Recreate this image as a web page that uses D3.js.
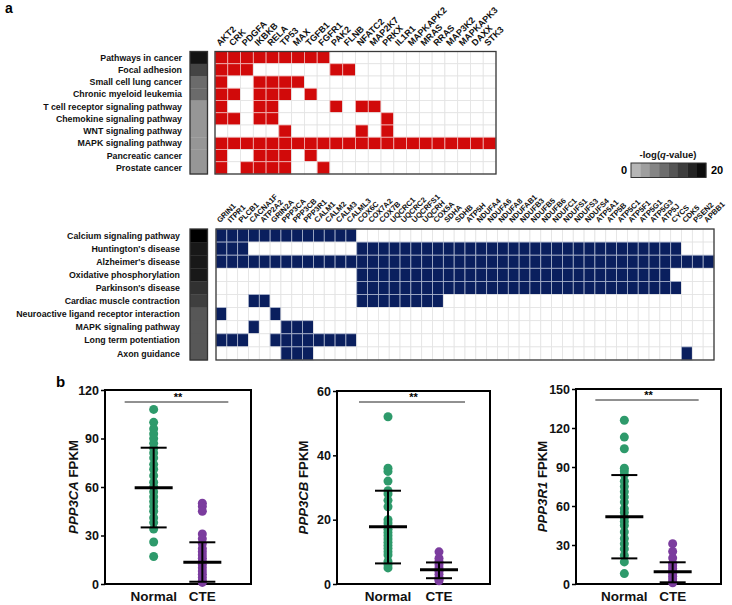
<!DOCTYPE html>
<html><head><meta charset="utf-8">
<script src="https://cdn.jsdelivr.net/npm/d3@7"></script>
<style>body{margin:0;background:#fff}svg{display:block;font-family:"Liberation Sans",Arial,sans-serif;font-weight:bold}</style>
</head><body><svg id="c" width="732" height="605"></svg>
<script>
// ---------- Panel a, top heatmap ----------
const topPathways = ["Pathways in cancer","Focal adhesion","Small cell lung cancer","Chronic myeloid leukemia","T cell receptor signaling pathway","Chemokine signaling pathway","WNT signaling pathway","MAPK signaling pathway","Pancreatic cancer","Prostate cancer"];
const topGenes = ["AKT2","CRK","PDGFA","IKBKB","RELA","TP53","MAX","TGFB1","FGFR1","PAK2","FLNB","NFATC2","MAP2K7","PRKX","IL1R1","MAPKAPK2","MRAS","RRAS","MAP3K2","MAPKAPK3","DAXX","STK3"];
const topHits = [
  "1111111110 0000000000 00",
  "1110000001 1000000000 00",
  "1001111000 0000000000 00",
  "1101110100 0000000000 00",
  "1001100001 0110000000 00",
  "1101100000 0001000000 00",
  "0000010000 0101000000 00",
  "1111111111 1111111111 11",
  "1001110100 0000000000 00",
  "1011110010 0000000000 00"
];
const topScores = [18, 13, 9, 9, 4.5, 4.5, 4.5, 4.5, 4.5, 4.5];

// ---------- Panel a, bottom heatmap ----------
const bottomPathways = ["Calcium signaling pathway","Huntington's disease","Alzheimer's disease","Oxidative phosphorylation","Parkinson's disease","Cardiac muscle contraction","Neuroactive ligand receptor interaction","MAPK signaling pathway","Long term potentiation","Axon guidance"];
const bottomGenes = ["GRIN1","ITPR1","PLCB1","CACNA1F","ATP2A2","GRIN2A","PPP3CA","PPP3CB","PPP3R1","CALM1","CALM2","CALM3","CALML3","COX6C","COX7A2","COX7B","UQCRC1","UQCRC2","UQCRFS1","UQCRH","COX5A","SDHA","SDHB","ATP5H","NDUFA4","NDUFA6","NDUFA8","NDUFAB1","NDUFB3","NDUFB5","NDUFB6","NDUFC1","NDUFS1","NDUFS3","NDUFS4","ATP5A1","ATP5B","ATP5C1","ATP5F1","ATP5G1","ATP5G3","ATP5J","CYCS","CDK5","PSEN2","APBB1"];
const bottomHits = [
  "1111111111 1110000000 0000000000 0000000000 000000",
  "1110000000 0001111111 1111111111 1111111111 111000",
  "1111111111 1111111111 1111111111 1111111111 111111",
  "0000000000 0001111111 1111111111 1111111111 110000",
  "0000000000 0001111111 1111111111 1111111111 111000",
  "0001100000 0001111111 1000000000 0000000000 000000",
  "1000010000 0000000000 0000000000 0000000000 000000",
  "0001001110 0000000000 0000000000 0000000000 000000",
  "1110011111 1110000000 0000000000 0000000000 000000",
  "0000001110 0000000000 0000000000 0000000000 000100"
];
const bottomScores = [20, 17.5, 17.5, 17.5, 15, 13.5, 11, 11, 11, 11];
const legendTicks = [0, 20];

// ---------- Panel b ----------
const groups = ["Normal","CTE"];
const ppp3caNormal = [108,100,96,93,90,87,84,81,78,74,71,67,63,60,57,54,51,48,45,41,38,34,26,17];
const ppp3caCTE = [50,48,45,31,28,25,22,20,18,16,14,12,10,8,6,4,2,1];
const ppp3caStats = [{mean:59.6, lo:35, hi:84.3},{mean:13.4, lo:1.4, hi:25.8}];
const ppp3cbNormal = [52,36,35,32,29,28,26,24,20,19,18,17,16,15,14,13,12,11,10,9,7,6,5];
const ppp3cbCTE = [10,8,7,6,5,4,3,2,1.5,1];
const ppp3cbStats = [{mean:17.8, lo:6.4, hi:29},{mean:4.4, lo:1.8, hi:6.7}];
const ppp3r1Normal = [126,113,104,89,87,84,79,75,71,67,63,58,55,51,48,45,40,35,31,27,22,17,8];
const ppp3r1CTE = [31,25,20,16,14,12,10,8,6,4,2,1];
const ppp3r1Stats = [{mean:51.8, lo:19.7, hi:83.8},{mean:9.5, lo:1.3, hi:16.7}];
const ppp3caTicks = [0,30,60,90,120];
const ppp3cbTicks = [0,20,40,60];
const ppp3r1Ticks = [0,30,60,90,120,150];

const svg = d3.select("#c");
const gray = d3.scaleLinear().domain([0,20]).range(["#c2c2c2","#000000"]);

function heatmap(o){
  const g = svg.append("g");
  const x = d3.scaleBand().domain(o.genes).range([o.x0,o.x1]);
  const y = d3.scaleBand().domain(o.pathways).range([o.y0,o.y1]);
  const cells = [];
  o.pathways.forEach((p,i)=>{
    const row = o.hits[i].replace(/ /g,"");
    o.genes.forEach((gn,j)=>cells.push({p, gn, on: row[j]==="1"}));
  });
  g.selectAll("rect.cell").data(cells).join("rect").attr("class","cell")
    .attr("x",d=>x(d.gn)).attr("y",d=>y(d.p))
    .attr("width",x.bandwidth()).attr("height",y.bandwidth())
    .attr("fill",d=>d.on?o.fill:"#fff")
    .attr("stroke",d=>d.on?o.lineOn:"#e3e3e3").attr("stroke-width",0.8);
  g.append("rect").attr("x",o.x0).attr("y",o.y0).attr("width",o.x1-o.x0).attr("height",o.y1-o.y0)
    .attr("fill","none").attr("stroke","#3a3a3a").attr("stroke-width",1.3);
  // side bar
  g.selectAll("rect.bar").data(o.pathways).join("rect").attr("class","bar")
    .attr("x",o.bx0).attr("y",d=>y(d)).attr("width",o.bx1-o.bx0).attr("height",y.bandwidth()+0.3)
    .attr("fill",(d,i)=>gray(o.scores[i]));
  g.append("rect").attr("x",o.bx0).attr("y",o.y0).attr("width",o.bx1-o.bx0).attr("height",o.y1-o.y0)
    .attr("fill","none").attr("stroke","#333").attr("stroke-width",1.3);
  // row labels
  g.selectAll("text.row").data(o.pathways).join("text").attr("class","row")
    .attr("x",o.labelX).attr("y",d=>y(d)+y.bandwidth()/2).attr("dy","0.35em")
    .attr("text-anchor","end").attr("font-size",o.rowFont).attr("fill","#111").text(d=>d);
  // gene labels
  g.selectAll("text.gene").data(o.genes).join("text").attr("class","gene")
    .attr("transform",d=>`translate(${x(d)+x.bandwidth()/2-1.5},${o.y0-o.geneGap}) rotate(-45)`)
    .attr("font-size",o.geneFont).attr("fill","#111").text(d=>d);
}

heatmap({pathways:topPathways, genes:topGenes, hits:topHits, scores:topScores,
  x0:215, x1:496, y0:51.5, y1:174, bx0:190, bx1:207.5, labelX:182,
  fill:"#d10a0a", lineOn:"#f0b4b4", rowFont:8.8, geneFont:9, geneGap:5});
heatmap({pathways:bottomPathways, genes:bottomGenes, hits:bottomHits, scores:bottomScores,
  x0:216, x1:714, y0:229, y1:360, bx0:190, bx1:207.5, labelX:180,
  fill:"#0a1f5e", lineOn:"#aab4cc", rowFont:8.8, geneFont:7.6, geneGap:6});

// legend
(function(){
  const lx = d3.scaleLinear().domain(legendTicks).range([631,706]);
  const steps = d3.range(8);
  const w = (706-631)/8;
  svg.selectAll("rect.leg").data(steps).join("rect").attr("class","leg")
    .attr("x",d=>631+d*w).attr("y",163).attr("width",w+0.3).attr("height",14.5)
    .attr("fill",d=>gray(legendTicks[0]+(d+0.5)*(legendTicks[1]-legendTicks[0])/8));
  svg.append("rect").attr("x",631).attr("y",163).attr("width",75).attr("height",14.5)
    .attr("fill","none").attr("stroke","#333").attr("stroke-width",1);
  const t = svg.append("text").attr("x",668).attr("y",158).attr("text-anchor","middle").attr("font-size",9.5).attr("fill","#111");
  t.append("tspan").text("-log(");
  t.append("tspan").attr("font-style","italic").text("q");
  t.append("tspan").text("-value)");
  svg.append("text").attr("x",lx(0)-7).attr("y",174).attr("text-anchor","middle").attr("font-size",11).text(legendTicks[0]);
  svg.append("text").attr("x",lx(20)+11).attr("y",174).attr("text-anchor","middle").attr("font-size",11).text(legendTicks[1]);
})();

svg.append("text").attr("x",5).attr("y",13).attr("font-size",14).text("a");
svg.append("text").attr("x",56).attr("y",387).attr("font-size",15).text("b");

function scatter(o){
  const g = svg.append("g");
  const x = d3.scalePoint().domain(groups).range([o.x0,o.x1]).padding(1);
  const y = d3.scaleLinear().domain([0,o.ticks[o.ticks.length-1]]).range([584,o.top]);
  const ax = d3.axisLeft(y).tickValues(o.ticks).tickSize(4).tickPadding(2);
  const a = g.append("g").attr("transform",`translate(${o.x0},0)`).call(ax);
  a.select(".domain").remove();
  a.selectAll("line").attr("stroke","#000").attr("stroke-width",1.5);
  a.selectAll("text").attr("font-size",12.5).attr("font-family","Liberation Sans, Arial, sans-serif").attr("font-weight","bold").attr("fill","#111");
  g.append("rect").attr("x",o.x0).attr("y",o.top).attr("width",o.x1-o.x0).attr("height",584-o.top)
    .attr("fill","none").attr("stroke","#000").attr("stroke-width",2);
  // points
  [o.normal,o.cte].forEach((vals,k)=>{
    g.selectAll(null).data(vals).join("circle")
      .attr("cx",x(groups[k])).attr("cy",d=>y(d)).attr("r",4.5)
      .attr("fill",k===0?"#2e9a6b":"#7b3c9e");
  });
  // error bars
  o.stats.forEach((s,k)=>{
    const cx = x(groups[k]);
    g.append("line").attr("x1",cx).attr("x2",cx).attr("y1",y(s.lo)).attr("y2",y(s.hi)).attr("stroke","#000").attr("stroke-width",2);
    g.append("line").attr("x1",cx-13).attr("x2",cx+13).attr("y1",y(s.lo)).attr("y2",y(s.lo)).attr("stroke","#000").attr("stroke-width",2);
    g.append("line").attr("x1",cx-13).attr("x2",cx+13).attr("y1",y(s.hi)).attr("y2",y(s.hi)).attr("stroke","#000").attr("stroke-width",2);
    g.append("line").attr("x1",cx-19).attr("x2",cx+19).attr("y1",y(s.mean)).attr("y2",y(s.mean)).attr("stroke","#000").attr("stroke-width",3);
  });
  // significance
  const sy = o.sigY;
  g.append("line").attr("x1",x(groups[0])-29).attr("x2",x(groups[1])+26).attr("y1",sy).attr("y2",sy).attr("stroke","#222").attr("stroke-width",1);
  g.append("text").attr("x",(x(groups[0])+x(groups[1]))/2).attr("y",sy-1).attr("text-anchor","middle").attr("font-size",11).text("**");
  // x labels
  groups.forEach(gr=>{
    g.append("text").attr("x",x(gr)).attr("y",601).attr("text-anchor","middle").attr("font-size",13.5).attr("fill","#111").text(gr);
  });
  // y label
  const t = g.append("text").attr("transform",`translate(${o.labelX},${(584+o.top)/2}) rotate(-90)`)
    .attr("text-anchor","middle").attr("font-size",13.2).attr("fill","#111");
  t.append("tspan").attr("font-style","italic").text(o.gene);
  t.append("tspan").text(" FPKM");
}

scatter({x0:105, x1:251, top:390, ticks:ppp3caTicks, normal:ppp3caNormal, cte:ppp3caCTE, stats:ppp3caStats, gene:"PPP3CA", labelX:78, sigY:402});
scatter({x0:337, x1:490, top:391, ticks:ppp3cbTicks, normal:ppp3cbNormal, cte:ppp3cbCTE, stats:ppp3cbStats, gene:"PPP3CB", labelX:308, sigY:402});
scatter({x0:576, x1:721, top:389, ticks:ppp3r1Ticks, normal:ppp3r1Normal, cte:ppp3r1CTE, stats:ppp3r1Stats, gene:"PPP3R1", labelX:547, sigY:400});
</script>
</body></html>
